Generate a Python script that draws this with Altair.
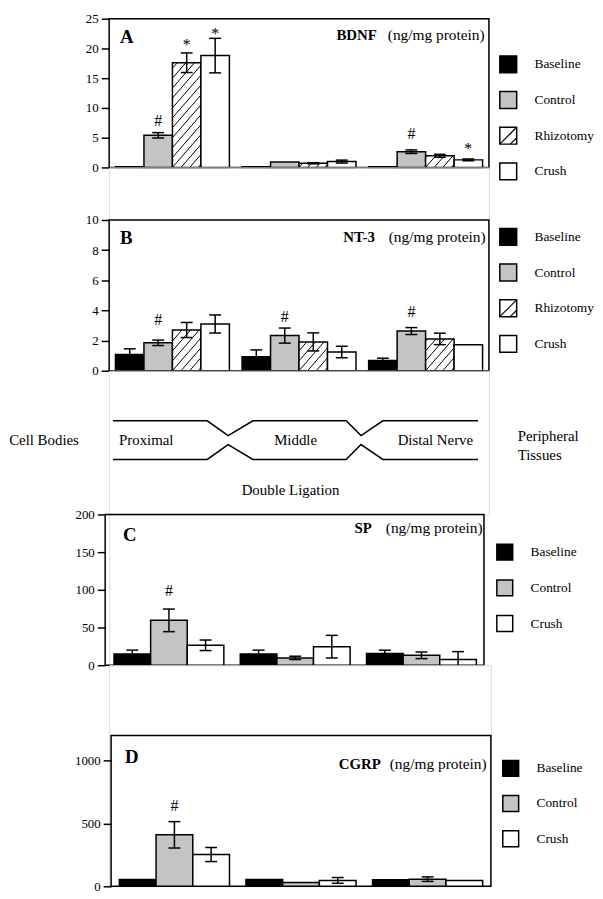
import altair as alt
import pandas as pd

FONT = "Liberation Serif"

regions = ["Proximal", "Middle", "Distal Nerve"]
series_four = ["Baseline", "Control", "Rhizotomy", "Crush"]
series_three = ["Baseline", "Control", "Crush"]
fill_four = ["#000000", "#c4c4c4", "#ffffff", "#ffffff"]
fill_three = ["#000000", "#c4c4c4", "#ffffff"]

# Panel A: BDNF (ng/mg protein)
bdnf_baseline = [0.12, 0.12, 0.12]
bdnf_control = [5.4, 0.92, 2.65]
bdnf_rhizotomy = [17.6, 0.70, 1.95]
bdnf_crush = [18.8, 0.98, 1.27]
bdnf_baseline_err = [0.0, 0.0, 0.0]
bdnf_control_err = [0.45, 0.0, 0.3]
bdnf_rhizotomy_err = [1.65, 0.1, 0.25]
bdnf_crush_err = [2.9, 0.25, 0.15]
bdnf_sig_series = ["Control", "Rhizotomy", "Crush", "Control", "Crush"]
bdnf_sig_region = [0, 0, 0, 2, 2]
bdnf_sig_text = ["#", "*", "*", "#", "*"]
bdnf_sig_y = [7.84, 20.55, 22.5, 5.6, 3.1]

# Panel B: NT-3 (ng/mg protein)
nt3_baseline = [1.07, 0.93, 0.67]
nt3_control = [1.85, 2.33, 2.63]
nt3_rhizotomy = [2.70, 1.91, 2.11]
nt3_crush = [3.10, 1.24, 1.72]
nt3_baseline_err = [0.38, 0.45, 0.16]
nt3_control_err = [0.18, 0.5, 0.23]
nt3_rhizotomy_err = [0.5, 0.6, 0.38]
nt3_crush_err = [0.6, 0.38, 0.0]
nt3_sig_series = ["Control", "Control", "Control"]
nt3_sig_region = [0, 1, 2]
nt3_sig_text = ["#", "#", "#"]
nt3_sig_y = [3.33, 3.59, 3.92]

# Panel C: SP (ng/mg protein)
sp_baseline = [15.0, 15.0, 15.4]
sp_control = [59.5, 9.7, 13.1]
sp_crush = [26.4, 24.6, 7.5]
sp_baseline_err = [5.0, 5.0, 4.5]
sp_control_err = [15.0, 2.2, 4.4]
sp_crush_err = [7.0, 15.0, 10.5]
sp_sig_series = ["Control"]
sp_sig_region = [0]
sp_sig_text = ["#"]
sp_sig_y = [97.8]

# Panel D: CGRP (ng/mg protein)
cgrp_baseline = [55.0, 55.0, 52.0]
cgrp_control = [410.0, 31.0, 57.0]
cgrp_crush = [253.0, 47.0, 47.0]
cgrp_baseline_err = [0.0, 0.0, 0.0]
cgrp_control_err = [105.0, 0.0, 18.0]
cgrp_crush_err = [56.0, 23.0, 0.0]
cgrp_sig_series = ["Control"]
cgrp_sig_region = [0]
cgrp_sig_text = ["#"]
cgrp_sig_y = [642.0]

# Schematic of the double-ligated nerve (schematic units)
diag_x = [0.03, 0.775, 0.94, 1.136, 1.872, 1.99, 2.162, 2.914]
diag_top_y = [50.5, 50.5, 65.5, 50.5, 50.5, 65.5, 50.5, 50.5]
diag_bot_y = [89.5, 89.5, 74.5, 89.5, 89.5, 74.5, 89.5, 89.5]
diag_left_labels = ["Cell Bodies", "Proximal", "Distal Nerve", "Peripheral", "Tissues"]
diag_left_x = [-0.79, 0.078, 2.279, 3.227, 3.227]
diag_left_y = [69.5, 69.5, 69.5, 65.5, 85.5]
diag_mid_labels = ["Middle", "Double Ligation"]
diag_mid_x = [1.473, 1.433]
diag_mid_y = [69.5, 120.5]


def build_table(series, means, errs, pad, bw):
    rows = []
    for i, s in enumerate(series):
        for g in range(len(regions)):
            x0 = g + pad + i * bw
            v = means[i][g]
            e = errs[i][g]
            rows.append(dict(series=s, region=regions[g], x0=x0, x1=x0 + bw,
                             xc=x0 + bw / 2, v=v, e=e, lo=max(0.0, v - e),
                             hi=v + e, clipped=(v - e) < 0, zero=0.0))
    return pd.DataFrame(rows)


def hatch_rows(tbl, series_name, W, H, ymax, spacing=10.0, slope=1.15):
    px_x = W / 3.0
    px_y = H / ymax
    rows = []
    for _, r in tbl[tbl.series == series_name].iterrows():
        w = (r.x1 - r.x0) * px_x
        h = r.v * px_y
        k = int(-(slope * w) // spacing) - 1
        while True:
            c = k * spacing
            if c > h:
                break
            t_lo = max(0.0, -c / slope)
            t_hi = min(w, (h - c) / slope)
            if t_hi - t_lo > 0.4:
                rows.append(dict(hx0=r.x0 + t_lo / px_x, hy0=(c + slope * t_lo) / px_y,
                                 hx1=r.x0 + t_hi / px_x, hy1=(c + slope * t_hi) / px_y))
            k += 1
    return pd.DataFrame(rows)


def one(**kw):
    return pd.DataFrame({k: [v] for k, v in kw.items()})


def make_panel(letter, name, series, fills, means, errs, sig, ymax, yticks,
               W, H, extra, shift, pad, bw, key_left, key_size, key_label_x, key_centers,
               letter_xy, title_xy, hatch_series=None):
    xs = alt.Scale(domain=[0, 3], range=[shift, shift + W], nice=False, zero=False)
    ys = alt.Scale(domain=[0, ymax], range=[extra + H, extra], nice=False, zero=False)
    yax = alt.Axis(values=yticks, format="d", domain=False, grid=False, tickSize=8,
                   tickWidth=1.5, tickColor="black", labelFont=FONT, labelFontSize=13,
                   labelColor="black", labelPadding=3, title=None, offset=-shift)

    def X(f):
        return alt.X(f, type="quantitative", scale=xs, axis=None)

    def Y(f):
        return alt.Y(f, type="quantitative", scale=ys, axis=yax)

    tbl = build_table(series, means, errs, pad, bw)

    frame = alt.Chart(one(fx0=0.0, fx1=3.0, fy0=0.0, fy1=float(ymax))).mark_rect(
        fill="transparent", stroke="black", strokeWidth=1.5
    ).encode(x=X("fx0"), x2="fx1", y=Y("fy0"), y2="fy1")

    bars = alt.Chart(tbl).mark_bar(stroke="black", strokeWidth=1.5, opacity=1).encode(
        x=X("x0"), x2="x1", y=Y("v"), y2="zero",
        fill=alt.Fill("series:N", scale=alt.Scale(domain=series, range=fills), legend=None),
    )

    layers = [frame, bars]

    if hatch_series is not None:
        hdf = hatch_rows(tbl, hatch_series, W, H, ymax)
        layers.append(alt.Chart(hdf).mark_rule(color="black", strokeWidth=1).encode(
            x=X("hx0"), y=Y("hy0"), x2="hx1", y2="hy1"))

    etbl = tbl[tbl.e > 0]
    layers.append(alt.Chart(etbl).mark_rule(color="black", strokeWidth=1.5).encode(
        x=X("xc"), y=Y("lo"), y2="hi"))
    caps = []
    for _, r in etbl.iterrows():
        caps.append(dict(xc=r.xc, cap=r.hi))
        if not r.clipped:
            caps.append(dict(xc=r.xc, cap=r.lo))
    layers.append(alt.Chart(pd.DataFrame(caps)).mark_tick(
        orient="horizontal", size=12, thickness=1.5, color="black", opacity=1).encode(
        x=X("xc"), y=Y("cap")))

    s_series, s_region, s_text, s_y = sig
    srows = []
    for s, g, t, yv in zip(s_series, s_region, s_text, s_y):
        xc = tbl[(tbl.series == s) & (tbl.region == regions[g])].xc.iloc[0]
        srows.append(dict(xc=xc, sy=yv, txt=t))
    layers.append(alt.Chart(pd.DataFrame(srows)).mark_text(
        font=FONT, fontSize=16, color="black", baseline="middle", align="center").encode(
        x=X("xc"), y=Y("sy"), text="txt:N"))

    layers.append(alt.Chart(one(t=letter)).mark_text(
        font=FONT, fontSize=19, fontWeight="bold", color="black", align="left",
        baseline="middle").encode(x=alt.value(letter_xy[0]), y=alt.value(letter_xy[1]), text="t:N"))

    tx_bold, tx_reg, ty = title_xy
    layers.append(alt.Chart(one(t=name)).mark_text(
        font=FONT, fontSize=15, fontWeight="bold", color="black", align="right",
        baseline="middle").encode(x=alt.value(tx_bold), y=alt.value(ty), text="t:N"))
    layers.append(alt.Chart(one(t="(ng/mg protein)")).mark_text(
        font=FONT, fontSize=15.5, color="black", align="left",
        baseline="middle").encode(x=alt.value(tx_reg), y=alt.value(ty), text="t:N"))

    # key (legend) for the series
    half = key_size / 2.0
    for s, f, cy in zip(series, fills, key_centers):
        layers.append(alt.Chart(one(t=s)).mark_rect(
            fill=f, stroke="black", strokeWidth=1.5).encode(
            x=alt.value(key_left), x2=alt.value(key_left + key_size),
            y=alt.value(cy - half), y2=alt.value(cy + half)))
        layers.append(alt.Chart(one(t=s)).mark_text(
            font=FONT, fontSize=13.5, color="black", align="left", baseline="middle").encode(
            x=alt.value(key_label_x), y=alt.value(cy), text="t:N"))
        if s == hatch_series:
            l, r_, t_, b_ = key_left, key_left + key_size, cy - half, cy + half
            for (a, b, c, d) in [(l, b_, r_, t_), (l + key_size * 0.62, b_, r_, b_ - key_size * 0.38)]:
                layers.append(alt.Chart(one(t=s)).mark_rule(color="black", strokeWidth=1.2).encode(
                    x=alt.value(a), y=alt.value(b), x2=alt.value(c), y2=alt.value(d)))

    return alt.layer(*layers).properties(width=shift + W, height=extra + H)


panel_a = make_panel(
    "A", "BDNF", series_four, fill_four,
    [bdnf_baseline, bdnf_control, bdnf_rhizotomy, bdnf_crush],
    [bdnf_baseline_err, bdnf_control_err, bdnf_rhizotomy_err, bdnf_crush_err],
    (bdnf_sig_series, bdnf_sig_region, bdnf_sig_text, bdnf_sig_y),
    25, [0, 5, 10, 15, 20, 25], W=383, H=150, extra=0, shift=0, pad=0.05, bw=0.225,
    key_left=394, key_size=17, key_label_x=429, key_centers=[46, 82, 118, 154],
    letter_xy=(11, 18.5), title_xy=(270, 281, 16.5), hatch_series="Rhizotomy")

panel_b = make_panel(
    "B", "NT-3", series_four, fill_four,
    [nt3_baseline, nt3_control, nt3_rhizotomy, nt3_crush],
    [nt3_baseline_err, nt3_control_err, nt3_rhizotomy_err, nt3_crush_err],
    (nt3_sig_series, nt3_sig_region, nt3_sig_text, nt3_sig_y),
    10, [0, 2, 4, 6, 8, 10], W=383, H=152, extra=53, shift=0, pad=0.05, bw=0.225,
    key_left=394, key_size=17, key_label_x=429, key_centers=[70, 106, 142, 178],
    letter_xy=(11, 71.5), title_xy=(268, 282, 70.5), hatch_series="Rhizotomy")

panel_c = make_panel(
    "C", "SP", series_three, fill_three,
    [sp_baseline, sp_control, sp_crush],
    [sp_baseline_err, sp_control_err, sp_crush_err],
    (sp_sig_series, sp_sig_region, sp_sig_text, sp_sig_y),
    200, [0, 50, 100, 150, 200], W=382, H=152, extra=0, shift=-4, pad=0.07, bw=0.29,
    key_left=391, key_size=16, key_label_x=425, key_centers=[38, 74, 110],
    letter_xy=(14, 20.5), title_xy=(265, 279, 13.5))

panel_d = make_panel(
    "D", "CGRP", series_three, fill_three,
    [cgrp_baseline, cgrp_control, cgrp_crush],
    [cgrp_baseline_err, cgrp_control_err, cgrp_crush_err],
    (cgrp_sig_series, cgrp_sig_region, cgrp_sig_text, cgrp_sig_y),
    1200, [0, 500, 1000], W=383, H=152, extra=71, shift=2, pad=0.065, bw=0.29,
    key_left=397, key_size=16, key_label_x=431, key_centers=[104, 139.5, 175],
    letter_xy=(16, 92.5), title_xy=(274, 283, 99.5))

# Schematic panel
dxs = alt.Scale(domain=[0, 3], range=[0, 383], nice=False, zero=False)
dys = alt.Scale(domain=[0, 145], range=[0, 145], nice=False, zero=False)
line_rows = []
for i, (xv, yt, yb) in enumerate(zip(diag_x, diag_top_y, diag_bot_y)):
    line_rows.append(dict(line="top", order=i, lx=xv, ly=yt))
    line_rows.append(dict(line="bottom", order=i, lx=xv, ly=yb))
diag_lines = alt.Chart(pd.DataFrame(line_rows)).mark_line(color="black", strokeWidth=1.5).encode(
    x=alt.X("lx:Q", scale=dxs, axis=None), y=alt.Y("ly:Q", scale=dys, axis=None),
    detail="line:N", order="order:Q")
diag_text_left = alt.Chart(pd.DataFrame({"t": diag_left_labels, "tx": diag_left_x, "ty": diag_left_y})).mark_text(
    font=FONT, fontSize=15, color="black", align="left", baseline="middle").encode(
    x=alt.X("tx:Q", scale=dxs, axis=None), y=alt.Y("ty:Q", scale=dys, axis=None), text="t:N")
diag_text_mid = alt.Chart(pd.DataFrame({"t": diag_mid_labels, "tx": diag_mid_x, "ty": diag_mid_y})).mark_text(
    font=FONT, fontSize=15, color="black", align="center", baseline="middle").encode(
    x=alt.X("tx:Q", scale=dxs, axis=None), y=alt.Y("ty:Q", scale=dys, axis=None), text="t:N")
diagram = alt.layer(diag_lines, diag_text_left, diag_text_mid).properties(width=383, height=145)

chart = alt.vconcat(
    panel_a, panel_b, diagram, panel_c, panel_d, spacing=0, bounds="flush"
).resolve_scale(fill="independent").properties(
    padding={"left": 0, "top": 0, "right": 0, "bottom": 0}
).configure_view(strokeWidth=0).configure(background="white", font=FONT).configure_axis(
    labelFont=FONT, labelFontSize=13, labelColor="black"
)

chart.save("out.html", embed_options={"renderer": "svg", "actions": False})
